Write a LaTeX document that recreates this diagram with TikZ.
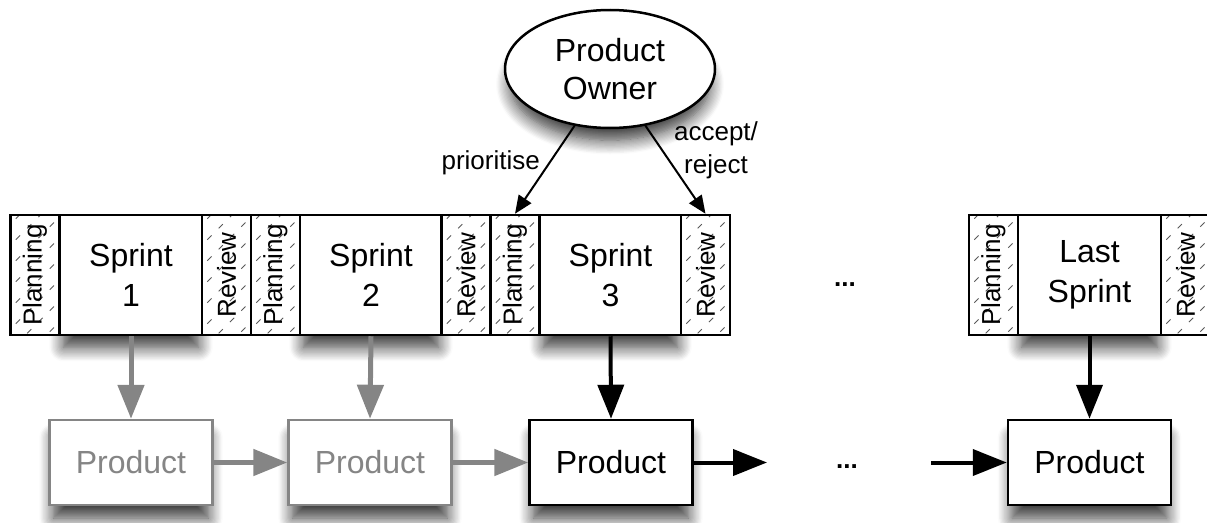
\documentclass[tikz,border=0pt]{standalone}
\usepackage{fontspec}
\usepackage{graphicx}
\setmainfont{Liberation Sans}
\usetikzlibrary{arrows.meta,shapes.geometric,shadows.blur}

\definecolor{dimgray}{HTML}{858585}

\begin{document}
\begin{tikzpicture}[x=1pt,y=-1pt,
  box/.style={draw, line width=2.5pt, fill=white, inner sep=0pt, align=center},
  soft/.style={blur shadow={shadow xshift=0pt, shadow yshift=-16pt,
      shadow blur radius=15pt, shadow blur steps=12, shadow opacity=80, shadow scale=0.95}},
  sprintbox/.style={box, soft, minimum height=120pt,
      font=\fontsize{32}{40}\selectfont},
  hatchline/.style={draw=black!65, line width=0.9pt, dash pattern=on 6pt off 10pt},
  sidebox/.style={box, minimum height=120pt, minimum width=49pt,
      font=\fontsize{26}{30}\selectfont,
      path picture={
        \foreach \k in {-4,...,7}
          \draw[hatchline] ([xshift=-6pt,yshift=\k*21pt]path picture bounding box.south west)
            -- ++(120pt,120pt);
      }},
  prodbox/.style={box, soft, minimum width=163pt, minimum height=85pt,
      font=\fontsize{32}{36}\selectfont},
  oldprod/.style={prodbox, draw=dimgray, text=dimgray},
  big/.style={line width=4pt, -{Triangle[length=34pt,width=26pt]}},
  grayarrow/.style={big, draw=dimgray, line width=5pt},
  blackarrow/.style={big, draw=black},
  ownerarrow/.style={line width=2pt, -{Triangle[length=18pt,width=15pt]}},
  tag/.style={font=\fontsize{26}{33}\selectfont, align=center, inner sep=0pt},
  dots/.style={font=\fontsize{26}{30}\selectfont\bfseries, inner sep=0pt}
]
\useasboundingbox (0,0) rectangle (1207,522);

% sprint strip: the sprints first, so their shadows stay under the side boxes
\node[sprintbox, minimum width=142pt] (s1) at (131,275) {Sprint\\1};
\node[sprintbox, minimum width=142pt] (s2) at (371,275) {Sprint\\2};
\node[sprintbox, minimum width=141pt] (s3) at (610.5,275) {Sprint\\3};
\node[sprintbox, minimum width=143pt] (sL) at (1089.5,275) {Last\\Sprint};

\node[sidebox]   (pl1) at (35,275)     {\rotatebox{90}{Planning}};
\node[sidebox]   (rv1) at (226.5,275)  {\rotatebox{90}{Review}};
\node[sidebox]   (pl2) at (275.5,275)  {\rotatebox{90}{Planning}};
\node[sidebox]   (rv2) at (466,275)    {\rotatebox{90}{Review}};
\node[sidebox]   (pl3) at (515,275)    {\rotatebox{90}{Planning}};
\node[sidebox]   (rv3) at (705.5,275)  {\rotatebox{90}{Review}};
\node[dots]      (gap1) at (845,285)   {...};
\node[sidebox]   (plL) at (993.5,275)  {\rotatebox{90}{Planning}};
\node[sidebox]   (rvL) at (1185.5,275) {\rotatebox{90}{Review}};

% product owner
\node[draw, ellipse, line width=2.5pt, fill=white, soft, align=center,
      minimum width=210pt, minimum height=118pt, inner sep=0pt,
      font=\fontsize{32}{38}\selectfont] (po) at (610,69) {Product\\Owner};
\draw[ownerarrow] (po.-122) -- (pl3.north);
\draw[ownerarrow] (po.-58) -- (rv3.north);
\node[tag, anchor=east] (prio) at (540,163) {prioritise};
\node[tag] (acc) at (716,150) {accept/\\reject};

% products
\node[oldprod] (p1) at (131,462.5)    {Product};
\node[oldprod] (p2) at (370,462.5)    {Product};
\node[prodbox] (p3) at (611,462.5)    {Product};
\node[dots]    (gap2) at (847,467)    {...};
\node[prodbox] (pL) at (1089.5,462.5) {Product};
\coordinate (outR) at (767,462.5);
\coordinate (inL) at (931,462.5);

% increments flowing down
\draw[grayarrow]  (s1.south) -- (p1.north);
\draw[grayarrow]  (s2.south) -- (p2.north);
\draw[blackarrow] (s3.south) -- (p3.north);
\draw[blackarrow] (sL.south) -- (pL.north);

% product evolution
\draw[grayarrow]  (p1.east) -- (p2.west);
\draw[grayarrow]  (p2.east) -- (p3.west);
\draw[blackarrow] (p3.east) -- (outR);
\draw[blackarrow] (inL) -- (pL.west);
\end{tikzpicture}
\end{document}
